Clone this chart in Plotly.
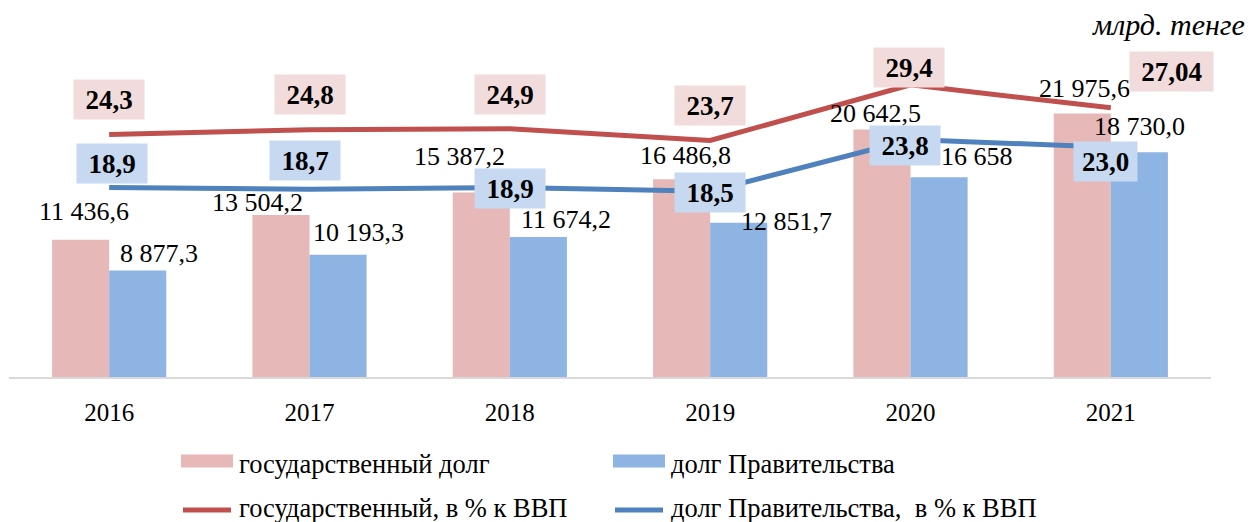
import plotly.graph_objects as go

# данные (млрд. тенге и % к ВВП)
years = ['2016', '2017', '2018', '2019', '2020', '2021']
gos_dolg = [11436.6, 13504.2, 15387.2, 16486.8, 20642.5, 21975.6]
dolg_prav = [8877.3, 10193.3, 11674.2, 12851.7, 16658.0, 18730.0]
gos_vvp = [24.3, 24.8, 24.9, 23.7, 29.4, 27.04]
prav_vvp = [18.9, 18.7, 18.9, 18.5, 23.8, 23.0]

gos_dolg_txt = ['11 436,6', '13 504,2', '15 387,2', '16 486,8', '20 642,5', '21 975,6']
dolg_prav_txt = ['8 877,3', '10 193,3', '11 674,2', '12 851,7', '16 658', '18 730,0']
gos_vvp_txt = ['24,3', '24,8', '24,9', '23,7', '29,4', '27,04']
prav_vvp_txt = ['18,9', '18,7', '18,9', '18,5', '23,8', '23,0']

# цвета
C_PINK = '#E6B9B8'
C_BLUE = '#8EB4E3'
C_RED = '#C0504D'
C_DBLUE = '#4F81BD'
BOX_PINK = '#F2DCDB'
BOX_BLUE = '#C6D9F1'
FONT = 'Times New Roman, Liberation Serif, serif'

W, H = 1252, 522
L, R, T, B = 9, 41, 10, 145


def px_x(p):
    return (p - L) / (W - L - R)


def px_y(p):
    return (H - B - p) / (H - B - T)


fig = go.Figure()

fig.add_trace(go.Bar(x=years, y=gos_dolg, name='государственный долг',
                     marker_color=C_PINK, marker_line_width=0))
fig.add_trace(go.Bar(x=years, y=dolg_prav, name='долг Правительства',
                     marker_color=C_BLUE, marker_line_width=0))
fig.add_trace(go.Scatter(x=years, y=gos_vvp, yaxis='y2', mode='lines',
                         name='государственный, в % к ВВП',
                         line=dict(color=C_RED, width=5)))
fig.add_trace(go.Scatter(x=years, y=prav_vvp, yaxis='y2', mode='lines',
                         name='долг Правительства,  в % к ВВП',
                         line=dict(color=C_DBLUE, width=5)))

ann = []

# подписи столбцов (смещения как в оригинале)
pink_shift = [(-25, 28), (-52, 13), (-50, 36), (-25, 24), (-35, 16), (-26, 25)]
blue_shift = [(50, 17), (49, 22), (56, 17), (76, 1), (66, 21), (29, 26)]
for i in range(len(years)):
    ann.append(dict(x=i, y=gos_dolg[i], xref='x', yref='y', text=gos_dolg_txt[i],
                    showarrow=False, xshift=pink_shift[i][0], yshift=pink_shift[i][1],
                    font=dict(family=FONT, size=26, color='black')))
    ann.append(dict(x=i, y=dolg_prav[i], xref='x', yref='y', text=dolg_prav_txt[i],
                    showarrow=False, xshift=blue_shift[i][0], yshift=blue_shift[i][1],
                    font=dict(family=FONT, size=26, color='black')))

# подписи линий в рамках
red_box = [(0, 35, 70), (0, 35, 70), (0, 34, 70), (0, 35, 70), (-2, 17, 70), (61, 36, 83)]
blue_box = [(3, 24, 70), (-5, 29, 70), (0, -1, 70), (0, -1, 70), (-6, -6, 70), (-5, -14, 63)]
for i in range(len(years)):
    ann.append(dict(x=i, y=gos_vvp[i], xref='x', yref='y2', text='<b>%s</b>' % gos_vvp_txt[i],
                    showarrow=False, xshift=red_box[i][0], yshift=red_box[i][1],
                    width=red_box[i][2], height=39, bgcolor=BOX_PINK, borderpad=0,
                    font=dict(family=FONT, size=27, color='black')))
    ann.append(dict(x=i, y=prav_vvp[i], xref='x', yref='y2', text='<b>%s</b>' % prav_vvp_txt[i],
                    showarrow=False, xshift=blue_box[i][0], yshift=blue_box[i][1],
                    width=blue_box[i][2], height=39, bgcolor=BOX_BLUE, borderpad=0,
                    font=dict(family=FONT, size=27, color='black')))

# единицы измерения
ann.append(dict(x=px_x(1247), y=px_y(24), xref='paper', yref='paper', text='<i>млрд. тенге</i>',
                showarrow=False, xanchor='right', yanchor='middle',
                font=dict(family=FONT, size=30, color='black')))

# легенда вручную
shapes = []
leg_items = [
    ('rect', C_PINK, 181, 233, 461, 'государственный долг', 237, 464),
    ('rect', C_BLUE, 613, 665, 461, 'долг Правительства', 669, 464),
    ('line', C_RED, 183, 231, 510, 'государственный, в % к ВВП', 237, 508),
    ('line', C_DBLUE, 615, 663, 510, 'долг Правительства,\u00a0 в % к ВВП', 669, 508),
]
for kind, col, x0, x1, yc, txt, tx, ty in leg_items:
    if kind == 'rect':
        shapes.append(dict(type='rect', xref='paper', yref='paper',
                           x0=px_x(x0), x1=px_x(x1), y0=px_y(yc - 6.5), y1=px_y(yc + 6.5),
                           fillcolor=col, line_width=0))
    else:
        shapes.append(dict(type='line', xref='paper', yref='paper',
                           x0=px_x(x0), x1=px_x(x1), y0=px_y(yc), y1=px_y(yc),
                           line=dict(color=col, width=5)))
    ann.append(dict(x=px_x(tx), y=px_y(ty), xref='paper', yref='paper', text=txt,
                    showarrow=False, xanchor='left', yanchor='middle',
                    font=dict(family=FONT, size=26.5, color='black')))

fig.update_layout(
    width=W, height=H,
    margin=dict(l=L, r=R, t=T, b=B),
    paper_bgcolor='white', plot_bgcolor='white',
    barmode='group', bargap=0.43, bargroupgap=0,
    showlegend=False,
    font=dict(family=FONT, color='black'),
    xaxis=dict(type='category', range=[-0.5, 5.5], autorange=False, showgrid=False,
               showline=True, linecolor='#D9D9D9', linewidth=2, ticks='',
               tickfont=dict(family=FONT, size=25, color='black'), ticklabelstandoff=12),
    yaxis=dict(range=[0, 30600], autorange=False, visible=False, showgrid=False,
               zeroline=False),
    yaxis2=dict(range=[-0.5, 37.05], autorange=False, overlaying='y', visible=False,
                showgrid=False, zeroline=False),
    annotations=ann,
    shapes=shapes,
)

# убрать стандартный отступ body, чтобы рисунок лег в окно 1252x522
fig.write_html('out.html', config={'displayModeBar': False},
               post_script="document.body.style.margin='0';")
